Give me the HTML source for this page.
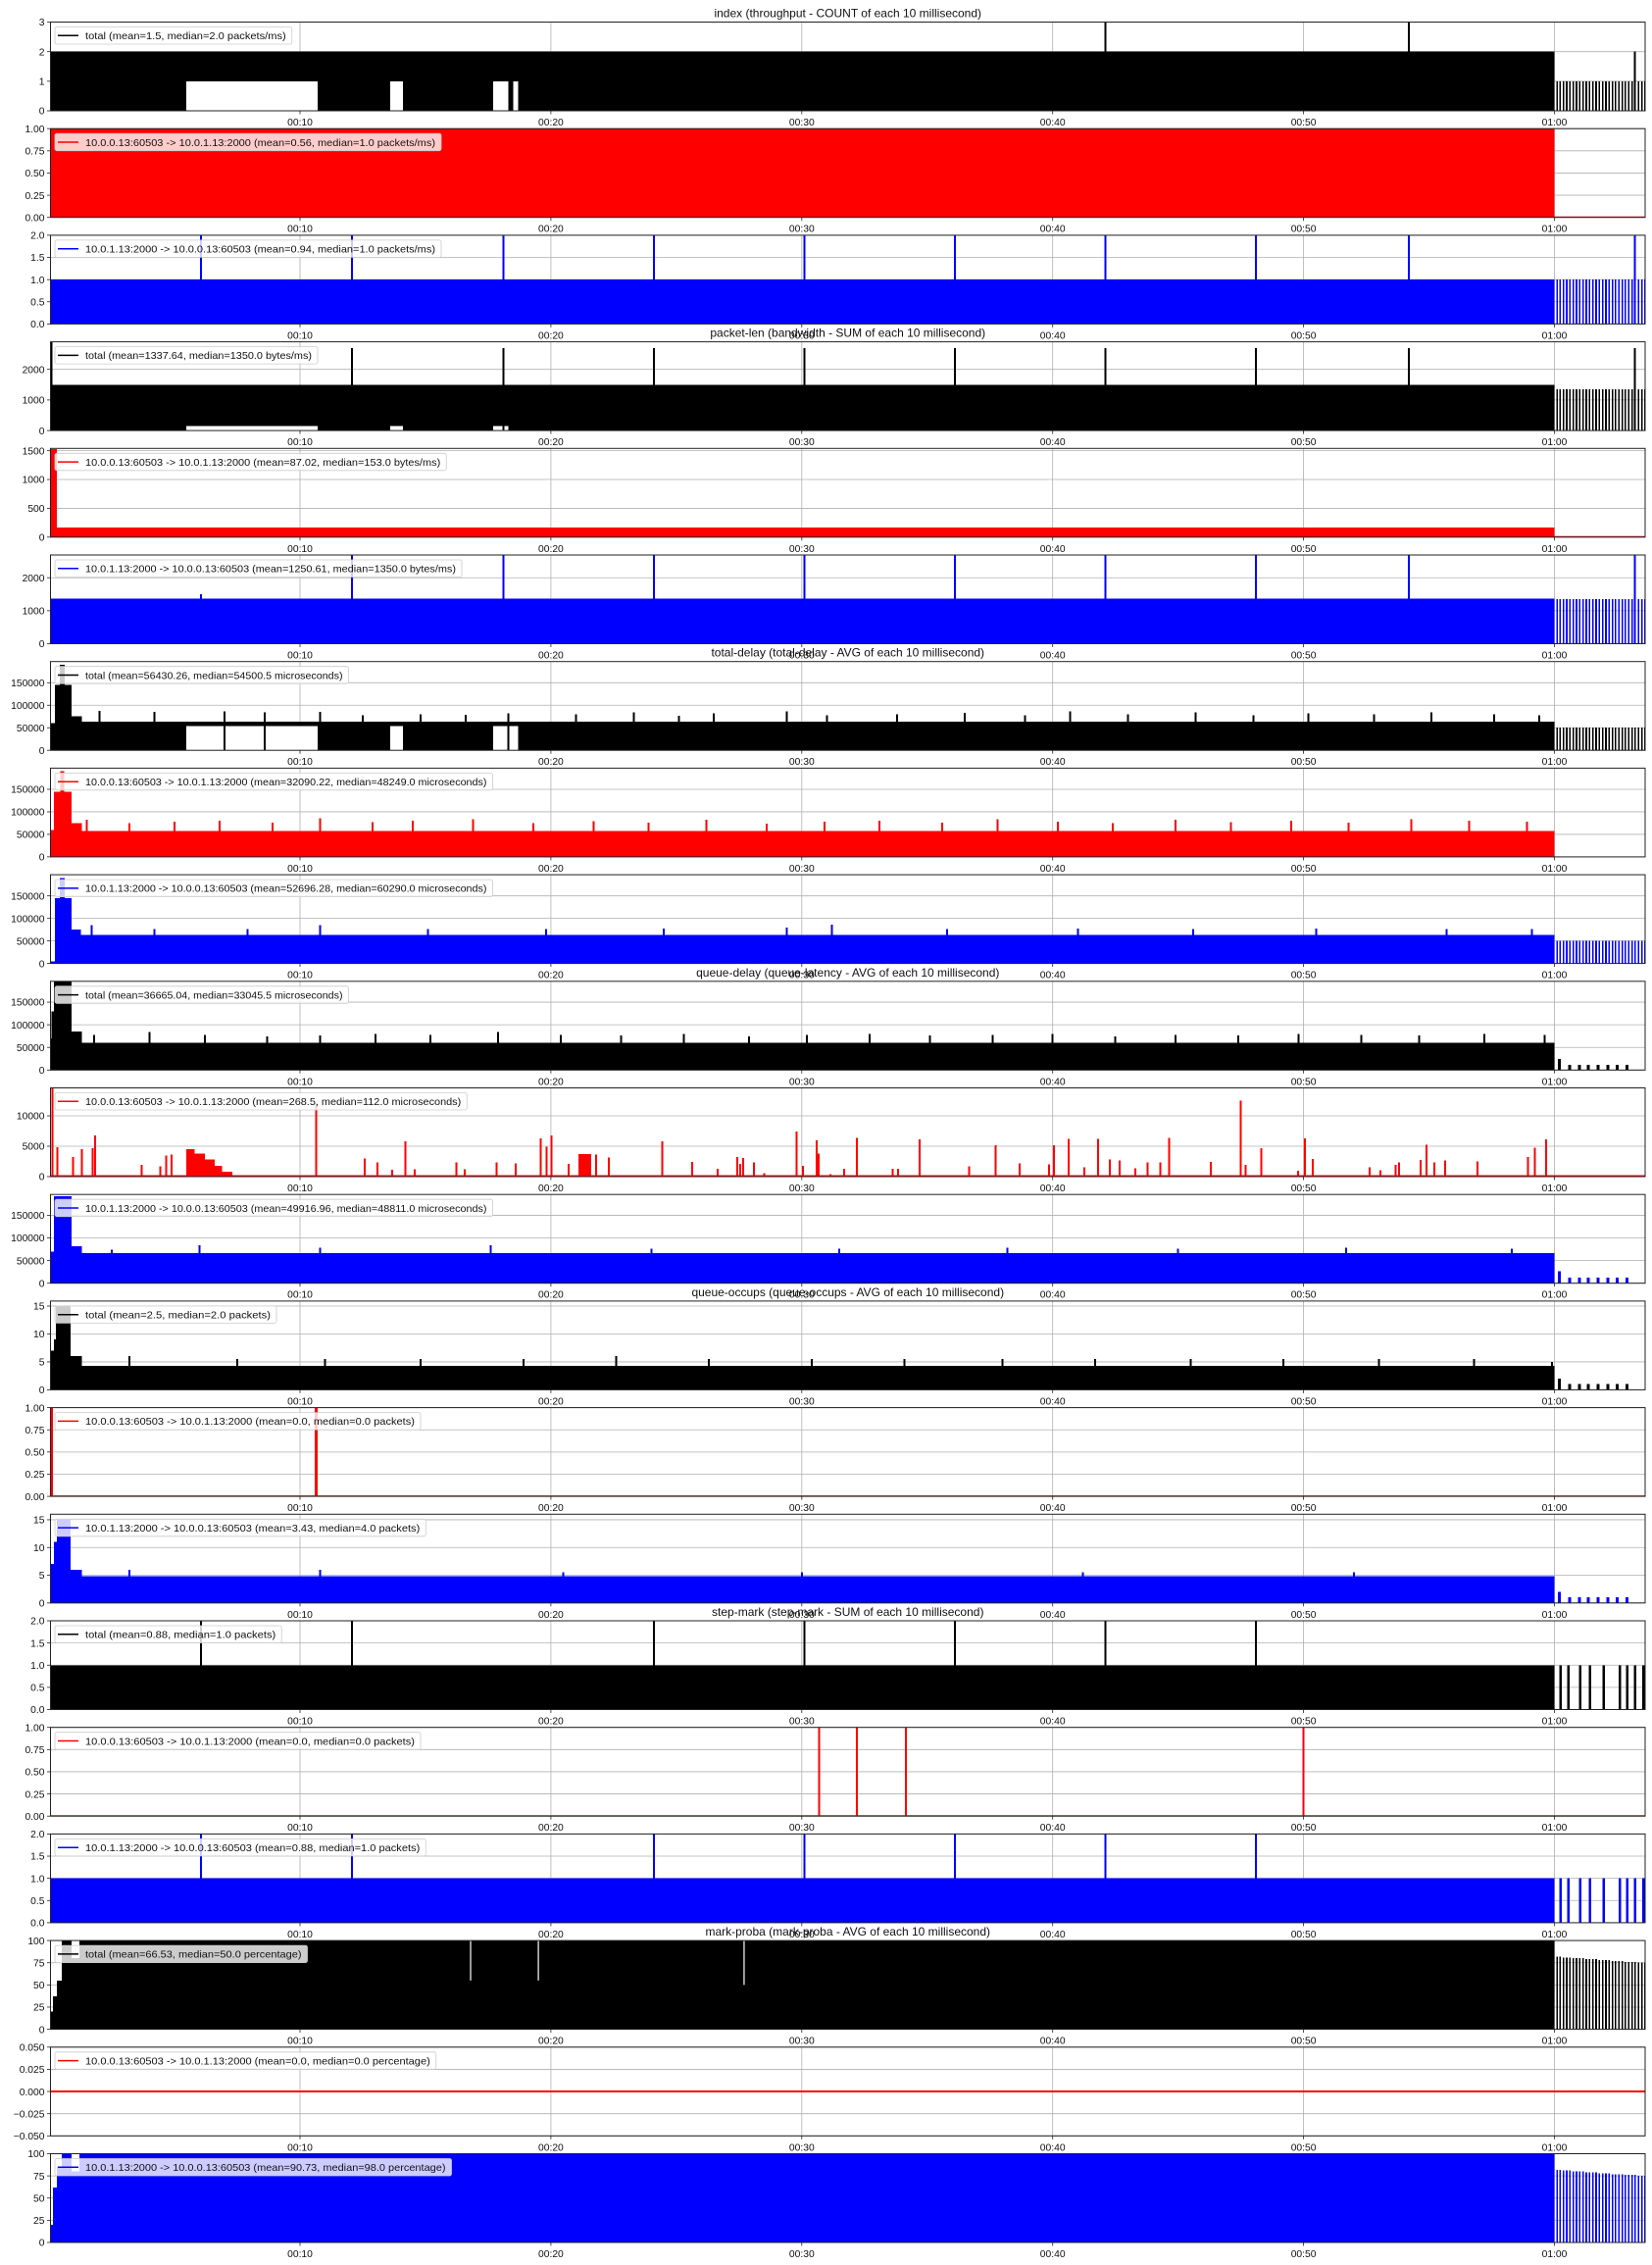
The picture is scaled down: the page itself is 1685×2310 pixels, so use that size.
<!DOCTYPE html>
<html><head><meta charset="utf-8"><title>chart</title>
<style>
html,body{margin:0;padding:0;background:#fff;}
svg{display:block;font-family:"Liberation Sans","DejaVu Sans",sans-serif;}
.crisp rect{shape-rendering:crispEdges;}
</style></head>
<body>
<svg id="chart" xmlns="http://www.w3.org/2000/svg" width="1685" height="2310" viewBox="0 0 1685 2310"></svg>
<script>
// ---------- shared axis data ----------
const xTickT = [10,20,30,40,50,60];
const xTickLabels = ['00:10','00:20','00:30','00:40','00:50','01:00'];
const tailT = [60.10,60.23,60.36,60.49,60.62,60.75,60.88,61.01,61.14,61.27,61.40,61.53,61.66,61.79,61.92,62.05,62.18,62.31,62.44,62.57,62.70,62.83,62.96,63.09,63.22,63.35,63.48,63.61];
const queueTailT = [60.2,60.6,60.99,61.34,61.73,62.12,62.5,62.9];
const stepTailT = [59.7,59.9,60.25,60.56,61.03,61.42,61.97,62.6,62.91,63.22,63.54];
const periodicT = [6.05,12.08,18.1,24.1,30.1,36.1,42.1,48.1,54.2,63.2];

// ---------- y ticks ----------
const yT3=[0,1,2,3], yL3=['0','1','2','3'];
const yT1=[0,0.25,0.5,0.75,1], yL1=['0.00','0.25','0.50','0.75','1.00'];
const yT2=[0,0.5,1,1.5,2], yL2=['0.0','0.5','1.0','1.5','2.0'];
const yTpl=[0,1000,2000], yLpl=['0','1000','2000'];
const yTplr=[0,500,1000,1500], yLplr=['0','500','1000','1500'];
const yTd=[0,50000,100000,150000], yLd=['0','50000','100000','150000'];
const yTqr=[0,5000,10000], yLqr=['0','5000','10000'];
const yTo=[0,5,10,15], yLo=['0','5','10','15'];
const yTp=[0,25,50,75,100], yLp=['0','25','50','75','100'];
const yTz=[-0.05,-0.025,0,0.025,0.05], yLz=['\u22120.050','\u22120.025','0.000','0.025','0.050'];

// ---------- series data ----------
const idxTotalSegs=[[0.05,60,0,2]];
const idxTotalHoles=[[5.47,10.7,0,1],[13.6,14.1,0,1],[17.7,18.3,0,1],[18.5,18.7,0,1]];
const idxTotalSpikeT=[42.1,54.2,63.2], idxTotalSpikeV=[3,3,2];
const idxTotalTailV=[1,1,1,1,1,1,1,1,1,1,1,1,1,1,1,1,1,1,1,1,1,1,1,1,1,1,1,1];
const idxRedSegs=[[0.05,60,0,1]];
const idxBlueSegs=[[0.05,60,0,1]];
const idxBlueSpikeV=[2,2,2,2,2,2,2,2,2,2];
const plTotalSegs=[[0.05,60,0,1500]];
const plTotalHoles=[[5.47,10.7,0,150],[13.6,14.1,0,150],[17.7,18.3,0,150]];
const plTotalSpikeT=[0.1,12.08,18.1,24.1,30.1,36.1,42.1,48.1,54.2,63.2], plTotalSpikeV=[2900,2700,2700,2700,2700,2700,2700,2700,2700,2700];
const plTotalTailV=[1350,1350,1350,1350,1350,1350,1350,1350,1350,1350,1350,1350,1350,1350,1350,1350,1350,1350,1350,1350,1350,1350,1350,1350,1350,1350,1350,1350];
const plRedSegs=[[0.05,60,0,170],[0.05,0.3,0,1530]];
const plBlueSegs=[[0.05,60,0,1370]];
const plBlueSpikeV=[1500,2690,2690,2690,2690,2690,2690,2690,2690,2690];
const tdTotalSegs=[[0.05,0.23,0,60000],[0.23,0.9,0,145000],[0.43,0.62,0,190000],[0.9,1.3,0,75000],[1.3,60,0,64000]];
const tdTotalHoles=[[5.47,10.7,0,54000],[13.6,14.1,0,54000],[17.7,18.7,0,54000]];
const tdTotalSpikeT=[2.0,4.2,7.0,8.6,10.8,12.5,14.8,16.6,18.3,21.0,23.3,25.1,26.5,29.4,31.0,33.8,36.5,38.9,40.7,43.0,45.7,48.0,50.2,52.8,55.1,57.6,59.4];
const tdTotalSpikeV=[88000,85000,86000,84000,85000,78000,80000,79000,82000,80000,84000,77000,82000,86000,78000,80000,83000,78000,86000,80000,84000,78000,82000,80000,84000,80000,78000];
const tdTotalTailV=[50000,50000,50000,50000,50000,50000,50000,50000,50000,50000,50000,50000,50000,50000,50000,50000,50000,50000,50000,50000,50000,50000,50000,50000,50000,50000,50000,50000];
const tdRedSegs=[[0.05,0.2,0,60000],[0.2,0.9,0,145000],[0.45,0.6,0,190000],[0.9,1.3,0,75000],[1.3,60,0,58000],[0.05,63.7,0,800]];
const tdRedSpikeT=[1.5,3.2,5.0,6.8,8.9,10.8,12.9,14.5,16.9,19.3,21.7,23.9,26.2,28.6,30.9,33.1,35.6,37.8,40.2,42.4,44.9,47.1,49.5,51.8,54.3,56.6,58.9];
const tdRedSpikeV=[82000,75000,78000,80000,76000,86000,77000,80000,84000,75000,79000,76000,82000,74000,78000,80000,76000,84000,78000,75000,82000,77000,80000,76000,84000,80000,78000];
const tdBlueSegs=[[0.05,0.23,0,5000],[0.23,0.9,0,145000],[0.43,0.62,0,190000],[0.9,1.26,0,75000],[1.26,60,0,63000]];
const tdBlueSpikeT=[1.7,4.2,7.9,10.8,15.1,19.8,24.5,29.4,31.2,35.8,41.0,45.6,50.5,55.7,59.1];
const tdBlueSpikeV=[85000,76000,76000,85000,76000,76000,78000,80000,86000,76000,78000,76000,78000,76000,76000];
const qdTotalSegs=[[0.05,0.2,0,70000],[0.1,0.2,0,130000],[0.2,0.9,0,196000],[0.9,1.3,0,85000],[1.3,60,0,60000]];
const qdTotalSpikeT=[1.8,4.0,6.2,8.7,10.8,13.0,15.2,17.9,20.4,22.8,25.3,27.9,30.2,32.7,35.1,37.6,40.0,42.5,44.9,47.4,49.8,52.3,54.6,57.2,59.6];
const qdTotalSpikeV=[78000,84000,78000,74000,76000,80000,78000,84000,78000,76000,80000,74000,78000,80000,76000,78000,80000,74000,78000,76000,80000,78000,76000,80000,78000];
const qdTotalTailV=[24600,11500,11500,11500,11500,11500,11500,11500];
const qdRedSegs=[[0.05,63.7,0,250],[5.47,5.8,0,4500],[5.8,6.2,0,3800],[6.2,6.6,0,2800],[6.6,6.9,0,1800],[6.9,7.3,0,800],[21.1,21.6,0,3700]];
const qdRedSpikeT=[0.14,0.32,0.96,1.3,1.74,1.83,3.68,4.44,4.67,4.89,10.65,12.58,13.09,13.67,14.21,14.57,16.23,16.56,17.84,18.59,19.59,19.83,20.03,20.7,21.8,22.3,24.43,25.63,26.65,27.43,27.55,27.66,28.1,28.5,29.8,30.05,30.6,30.67,31.14,31.68,32.2,33.63,33.83,34.7,36.68,37.73,38.68,39.86,40.05,40.64,41.26,41.81,42.27,42.66,43.3,43.79,44.3,44.65,46.3,47.5,47.7,48.32,49.78,50.05,50.37,52.64,53.07,53.66,53.81,54.67,54.9,55.21,55.64,56.93,58.94,59.22,59.67];
const qdRedSpikeV=[14600,4800,3200,4500,4700,6800,1900,1700,3500,3600,12000,3000,2300,1100,5800,1200,2300,1200,2300,2200,6300,4900,6800,2100,3600,3160,5800,2400,1300,3200,2100,3100,2300,600,7400,1800,6000,3800,400,1300,6400,1300,1300,6100,1700,5200,2200,2000,5200,6200,1500,6200,2800,2700,1400,2300,2300,6400,2400,12500,1900,4700,1000,6300,2900,1500,1070,1900,2360,2750,5280,2360,2700,2470,3200,4780,6120];
const qdBlueSegs=[[0.05,0.2,0,70000],[0.2,0.9,0,192000],[0.9,1.3,0,82000],[1.3,60,0,66000]];
const qdBlueSpikeT=[2.5,6.0,10.8,17.6,24.0,31.5,38.2,45.0,51.7,58.3];
const qdBlueSpikeV=[74000,84000,78000,84000,76000,76000,78000,76000,78000,76000];
const qdBlueTailV=[26000,12000,12000,12000,12000,12000,12000,12000];
const qoTotalSegs=[[0.05,0.2,0,7],[0.2,0.27,0,9],[0.27,0.85,0,15],[0.85,1.3,0,6],[1.3,60,0,4.3]];
const qoTotalSpikeT=[3.2,7.5,11.0,14.8,18.9,22.6,26.3,30.4,34.1,38.0,41.7,45.5,49.2,53.0,56.8,59.9];
const qoTotalSpikeV=[6,5.5,5.5,5.5,5.5,6,5.5,5.5,5.5,5.5,5.5,5.5,5.5,5.5,5.5,5];
const qoTotalTailV=[2,1,1,1,1,1,1,1];
const qoRedLines=[[0.05,63.7,0]];
const qoRedSpikeT=[0.1,10.65], qoRedSpikeV=[1,1];
const qoBlueSegs=[[0.05,0.2,0,7],[0.2,0.3,0,11],[0.3,0.85,0,15],[0.85,1.3,0,6],[1.3,60,0,4.8]];
const qoBlueSpikeT=[3.2,10.8,20.5,30.0,41.2,52.0];
const qoBlueSpikeV=[6,6,5.5,5.5,5.5,5.5];
const qoBlueTailV=[2,1,1,1,1,1,1,1];
const smTotalSegs=[[0.05,60,0,1]];
const smSpikeT=[6.05,12.08,24.1,30.1,36.1,42.1,48.1], smSpikeV=[2,2,2,2,2,2,2];
const smTailV=[1,1,1,1,1,1,1,1,1,1,1];
const smRedLines=[[0.05,63.7,0]];
const smRedSpikeT=[30.7,32.2,34.15,50.0], smRedSpikeV=[1,1,1,1];
const mpTotalSegs=[[0.05,0.15,0,20],[0.15,0.3,0,37],[0.3,0.5,0,55],[0.5,0.9,0,100],[0.9,1.2,0,80],[1.2,60,0,100]];
const mpTotalDips=[[16.8,55],[19.5,55],[27.7,50]];
const mpTailV=[82,82,81,81,81,80,80,80,80,79,79,79,79,78,78,78,78,77,77,77,77,76,76,76,76,75,75,75];
const mpRedLines=[[0.05,63.7,0]];
const mpBlueSegs=[[0.05,0.15,0,20],[0.15,0.3,0,62],[0.3,0.5,0,85],[0.5,0.9,0,100],[0.9,1.2,0,80],[1.2,60,0,100]];

const BK='#000000', RD='#ff0000', BL='#0000ff';
const panels=[
 {name:'index-total',title:'index (throughput - COUNT of each 10 millisecond)',legend:'total (mean=1.5, median=2.0 packets/ms)',c:BK,ymin:0,ymax:3,yt:yT3,yl:yL3,segs:idxTotalSegs,holes:idxTotalHoles,spT:idxTotalSpikeT,spV:idxTotalSpikeV,tT:tailT,tV:idxTotalTailV},
 {name:'index-forward',legend:'10.0.0.13:60503 -> 10.0.1.13:2000 (mean=0.56, median=1.0 packets/ms)',c:RD,ymin:0,ymax:1,yt:yT1,yl:yL1,segs:idxRedSegs,lines:[[60,63.7,0]]},
 {name:'index-reverse',legend:'10.0.1.13:2000 -> 10.0.0.13:60503 (mean=0.94, median=1.0 packets/ms)',c:BL,ymin:0,ymax:2,yt:yT2,yl:yL2,segs:idxBlueSegs,spT:periodicT,spV:idxBlueSpikeV,tT:tailT,tV:idxTotalTailV},
 {name:'packet-len-total',title:'packet-len (bandwidth - SUM of each 10 millisecond)',legend:'total (mean=1337.64, median=1350.0 bytes/ms)',c:BK,ymin:0,ymax:2900,yt:yTpl,yl:yLpl,segs:plTotalSegs,holes:plTotalHoles,spT:plTotalSpikeT,spV:plTotalSpikeV,tT:tailT,tV:plTotalTailV},
 {name:'packet-len-forward',legend:'10.0.0.13:60503 -> 10.0.1.13:2000 (mean=87.02, median=153.0 bytes/ms)',c:RD,ymin:0,ymax:1540,yt:yTplr,yl:yLplr,segs:plRedSegs,lines:[[60,63.7,0]]},
 {name:'packet-len-reverse',legend:'10.0.1.13:2000 -> 10.0.0.13:60503 (mean=1250.61, median=1350.0 bytes/ms)',c:BL,ymin:0,ymax:2690,yt:yTpl,yl:yLpl,segs:plBlueSegs,spT:periodicT,spV:plBlueSpikeV,tT:tailT,tV:plTotalTailV},
 {name:'total-delay-total',title:'total-delay (total-delay - AVG of each 10 millisecond)',legend:'total (mean=56430.26, median=54500.5 microseconds)',c:BK,ymin:0,ymax:197000,yt:yTd,yl:yLd,segs:tdTotalSegs,holes:tdTotalHoles,spT:tdTotalSpikeT,spV:tdTotalSpikeV,tT:tailT,tV:tdTotalTailV},
 {name:'total-delay-forward',legend:'10.0.0.13:60503 -> 10.0.1.13:2000 (mean=32090.22, median=48249.0 microseconds)',c:RD,ymin:0,ymax:197000,yt:yTd,yl:yLd,segs:tdRedSegs,spT:tdRedSpikeT,spV:tdRedSpikeV},
 {name:'total-delay-reverse',legend:'10.0.1.13:2000 -> 10.0.0.13:60503 (mean=52696.28, median=60290.0 microseconds)',c:BL,ymin:0,ymax:197000,yt:yTd,yl:yLd,segs:tdBlueSegs,spT:tdBlueSpikeT,spV:tdBlueSpikeV,tT:tailT,tV:tdTotalTailV},
 {name:'queue-delay-total',title:'queue-delay (queue-latency - AVG of each 10 millisecond)',legend:'total (mean=36665.04, median=33045.5 microseconds)',c:BK,ymin:0,ymax:196000,yt:yTd,yl:yLd,segs:qdTotalSegs,spT:qdTotalSpikeT,spV:qdTotalSpikeV,tT:queueTailT,tV:qdTotalTailV,tw:3},
 {name:'queue-delay-forward',legend:'10.0.0.13:60503 -> 10.0.1.13:2000 (mean=268.5, median=112.0 microseconds)',c:RD,ymin:0,ymax:14600,yt:yTqr,yl:yLqr,segs:qdRedSegs,spT:qdRedSpikeT,spV:qdRedSpikeV},
 {name:'queue-delay-reverse',legend:'10.0.1.13:2000 -> 10.0.0.13:60503 (mean=49916.96, median=48811.0 microseconds)',c:BL,ymin:0,ymax:196000,yt:yTd,yl:yLd,segs:qdBlueSegs,spT:qdBlueSpikeT,spV:qdBlueSpikeV,tT:queueTailT,tV:qdBlueTailV,tw:3},
 {name:'queue-occups-total',title:'queue-occups (queue-occups - AVG of each 10 millisecond)',legend:'total (mean=2.5, median=2.0 packets)',c:BK,ymin:0,ymax:15.9,yt:yTo,yl:yLo,segs:qoTotalSegs,spT:qoTotalSpikeT,spV:qoTotalSpikeV,tT:queueTailT,tV:qoTotalTailV,tw:3},
 {name:'queue-occups-forward',legend:'10.0.0.13:60503 -> 10.0.1.13:2000 (mean=0.0, median=0.0 packets)',c:RD,ymin:0,ymax:1,yt:yT1,yl:yL1,lines:qoRedLines,spT:qoRedSpikeT,spV:qoRedSpikeV,sw:3},
 {name:'queue-occups-reverse',legend:'10.0.1.13:2000 -> 10.0.0.13:60503 (mean=3.43, median=4.0 packets)',c:BL,ymin:0,ymax:16,yt:yTo,yl:yLo,segs:qoBlueSegs,spT:qoBlueSpikeT,spV:qoBlueSpikeV,tT:queueTailT,tV:qoBlueTailV,tw:3},
 {name:'step-mark-total',title:'step-mark (step-mark - SUM of each 10 millisecond)',legend:'total (mean=0.88, median=1.0 packets)',c:BK,ymin:0,ymax:2,yt:yT2,yl:yL2,segs:smTotalSegs,spT:smSpikeT,spV:smSpikeV,tT:stepTailT,tV:smTailV,tw:2.5},
 {name:'step-mark-forward',legend:'10.0.0.13:60503 -> 10.0.1.13:2000 (mean=0.0, median=0.0 packets)',c:RD,ymin:0,ymax:1,yt:yT1,yl:yL1,lines:smRedLines,spT:smRedSpikeT,spV:smRedSpikeV},
 {name:'step-mark-reverse',legend:'10.0.1.13:2000 -> 10.0.0.13:60503 (mean=0.88, median=1.0 packets)',c:BL,ymin:0,ymax:2,yt:yT2,yl:yL2,segs:smTotalSegs,spT:smSpikeT,spV:smSpikeV,tT:stepTailT,tV:smTailV,tw:2.5},
 {name:'mark-proba-total',title:'mark-proba (mark-proba - AVG of each 10 millisecond)',legend:'total (mean=66.53, median=50.0 percentage)',c:BK,ymin:0,ymax:100,yt:yTp,yl:yLp,segs:mpTotalSegs,dips:mpTotalDips,tT:tailT,tV:mpTailV},
 {name:'mark-proba-forward',legend:'10.0.0.13:60503 -> 10.0.1.13:2000 (mean=0.0, median=0.0 percentage)',c:RD,ymin:-0.05,ymax:0.05,yt:yTz,yl:yLz,lines:mpRedLines},
 {name:'mark-proba-reverse',legend:'10.0.1.13:2000 -> 10.0.0.13:60503 (mean=90.73, median=98.0 percentage)',c:BL,ymin:0,ymax:100,yt:yTp,yl:yLp,segs:mpBlueSegs,tT:tailT,tV:mpTailV}
];

const NS='http://www.w3.org/2000/svg';
const svg=document.getElementById('chart');
const AXL=51.5, AXR=1678, PH=90.5, PITCH=108.7, TOP0=22.5;
const X0=50.1, XS=25.59;
function xs(t){return X0+t*XS;}
function mk(parent,tag,attrs){const e=document.createElementNS(NS,tag);for(const k in attrs)e.setAttribute(k,attrs[k]);parent.appendChild(e);return e;}

const defs=mk(svg,'defs',{});
panels.forEach((p,i)=>{
  const top=TOP0+i*PITCH, bot=top+PH;
  const ys=v=>bot-(v-p.ymin)/(p.ymax-p.ymin)*PH;
  const g=mk(svg,'g',{});
  
  
  const cp=mk(defs,'clipPath',{id:'clip'+i});
  mk(cp,'rect',{x:AXL,y:top,width:AXR-AXL,height:PH});
  const grid=mk(g,'g',{stroke:'#b0b0b0','stroke-width':0.8});
  
  
  xTickT.forEach(t=>{mk(grid,'line',{x1:xs(t),x2:xs(t),y1:top,y2:bot});});
  p.yt.forEach(v=>{mk(grid,'line',{x1:AXL,x2:AXR,y1:ys(v),y2:ys(v)});});
  const dg=mk(g,'g',{'clip-path':'url(#clip'+i+')',fill:p.c,'class':'crisp'});
  
  
  (p.segs||[]).forEach(s=>{
    const r=mk(dg,'rect',{x:xs(s[0]),y:ys(s[3]),width:xs(s[1])-xs(s[0]),height:ys(s[2])-ys(s[3])});
    
    
  });
  (p.holes||[]).forEach(s=>{
    const r=mk(dg,'rect',{x:xs(s[0]),y:ys(s[3]),width:xs(s[1])-xs(s[0]),height:ys(s[2])-ys(s[3]),fill:'#fff'});
    
    
  });
  const sw=p.sw||2;
  (p.spT||[]).forEach((t,k)=>{
    const v=p.spV[k];
    const r=mk(dg,'rect',{x:xs(t)-sw/2,y:ys(v),width:sw,height:ys(p.ymin<0?0:p.ymin)-ys(v)});
    
    
  });
  const tw=p.tw||1.6;
  (p.tT||[]).forEach((t,k)=>{
    const v=p.tV[k];
    const r=mk(dg,'rect',{x:xs(t)-tw/2,y:ys(v),width:tw,height:ys(p.ymin)-ys(v)});
    
    
  });
  (p.lines||[]).forEach(l=>{
    const ln=mk(dg,'line',{x1:xs(l[0]),x2:xs(l[1]),y1:ys(l[2]),y2:ys(l[2]),stroke:p.c,'stroke-width':2});
    
    
  });
  (p.dips||[]).forEach(d=>{
    const ln=mk(dg,'line',{x1:xs(d[0]),x2:xs(d[0]),y1:ys(d[1]),y2:ys(p.ymax),stroke:'#fff','stroke-width':1.2});
    
    
  });
  const sp=mk(g,'rect',{x:AXL,y:top,width:AXR-AXL,height:PH,fill:'none',stroke:'#222','stroke-width':1});
  
  
  const yax=mk(g,'g',{'font-size':'10.3px',fill:'#111','text-anchor':'end'});
  
  
  p.yt.forEach((v,k)=>{
    mk(yax,'line',{x1:AXL-3.5,x2:AXL,y1:ys(v),y2:ys(v),stroke:'#222','stroke-width':0.8});
    const tx=mk(yax,'text',{x:AXL-6,y:ys(v)+3.7});
    tx.textContent=p.yl[k];
    
    
  });
  const xax=mk(g,'g',{'font-size':'10.3px',fill:'#111','text-anchor':'middle'});
  
  
  xTickT.forEach((t,k)=>{
    mk(xax,'line',{x1:xs(t),x2:xs(t),y1:bot,y2:bot+3.5,stroke:'#222','stroke-width':0.8});
    const tx=mk(xax,'text',{x:xs(t),y:bot+15});
    tx.textContent=xTickLabels[k];
    
    
  });
  const lg=mk(g,'g',{});
  
  
  const tw2=p.legend.length*5.25;
  mk(lg,'rect',{x:56,y:top+5,width:31+tw2+6,height:17.5,rx:2,fill:'#fff','fill-opacity':0.8,stroke:'#ccc','stroke-width':0.8});
  mk(lg,'line',{x1:59,x2:80,y1:top+13.8,y2:top+13.8,stroke:p.c,'stroke-width':1.5});
  const lt=mk(lg,'text',{x:87,y:top+17.6,'font-size':'10.5px',fill:'#111',textLength:tw2,lengthAdjust:'spacingAndGlyphs'});
  lt.textContent=p.legend;
  
  
  if(p.title){
    const tt=mk(g,'text',{x:(AXL+AXR)/2,y:top-5,'font-size':'12px',fill:'#111','text-anchor':'middle'});
    tt.textContent=p.title;
    
    
  }
});
</script>
</body></html>
